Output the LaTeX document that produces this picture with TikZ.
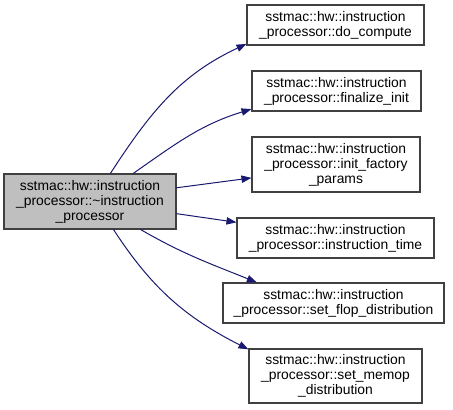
\documentclass[tikz,border=0pt]{standalone}
\usepackage{fontspec}
\setmainfont{Liberation Sans}
\usetikzlibrary{arrows.meta}
\definecolor{edgeblue}{HTML}{191970}
\definecolor{boxline}{HTML}{404040}
\definecolor{boxfill}{HTML}{BFBFBF}
\tikzset{
  fn/.style={draw=boxline,line width=0.8pt,fill=white,align=center,inner sep=0pt,
    font=\fontsize{10.4}{11.25}\selectfont},
  cur/.style={fn,fill=boxfill},
  call/.style={draw=edgeblue,line width=0.75pt,-{Triangle[length=7.5pt,width=5.5pt]}}
}
\begin{document}
\begin{tikzpicture}[x=0.75pt,y=-0.75pt]
\useasboundingbox (0,0) rectangle (453,410);
\node[cur,minimum width=129pt,minimum height=41.25pt] (ip) at (90,201.5) {sstmac::hw::instruction\\\_processor::\textasciitilde instruction\\\_processor};
\node[fn,minimum width=132.75pt,minimum height=30pt] (dc) at (335.5,25) {sstmac::hw::instruction\\\_processor::do\_compute};
\node[fn,minimum width=126.75pt,minimum height=30pt] (fi) at (336.5,91) {sstmac::hw::instruction\\\_processor::finalize\_init};
\node[fn,minimum width=126pt,minimum height=41.25pt] (ifp) at (336,164.5) {sstmac::hw::instruction\\\_processor::init\_factory\\\_params};
\node[fn,minimum width=147.75pt,minimum height=30pt] (it) at (335.5,238) {sstmac::hw::instruction\\\_processor::instruction\_time};
\node[fn,minimum width=165.75pt,minimum height=30pt] (sfd) at (333.5,303) {sstmac::hw::instruction\\\_processor::set\_flop\_distribution};
\node[fn,minimum width=129.75pt,minimum height=40.5pt] (smd) at (335.5,376) {sstmac::hw::instruction\\\_processor::set\_memop\\\_distribution};
\draw[call] (ip.54) to[out=57,in=205] (dc.192);
\draw[call] (ip.33) to[out=35,in=197] (fi.192);
\draw[call] (ip.9) -- (ifp.189);
\draw[call] (ip.-8) -- (it.171);
\draw[call] (ip.-29) to[out=-30,in=158] (sfd.165);
\draw[call] (ip.-50) to[out=-57,in=153] (smd.163);
\end{tikzpicture}
\end{document}
